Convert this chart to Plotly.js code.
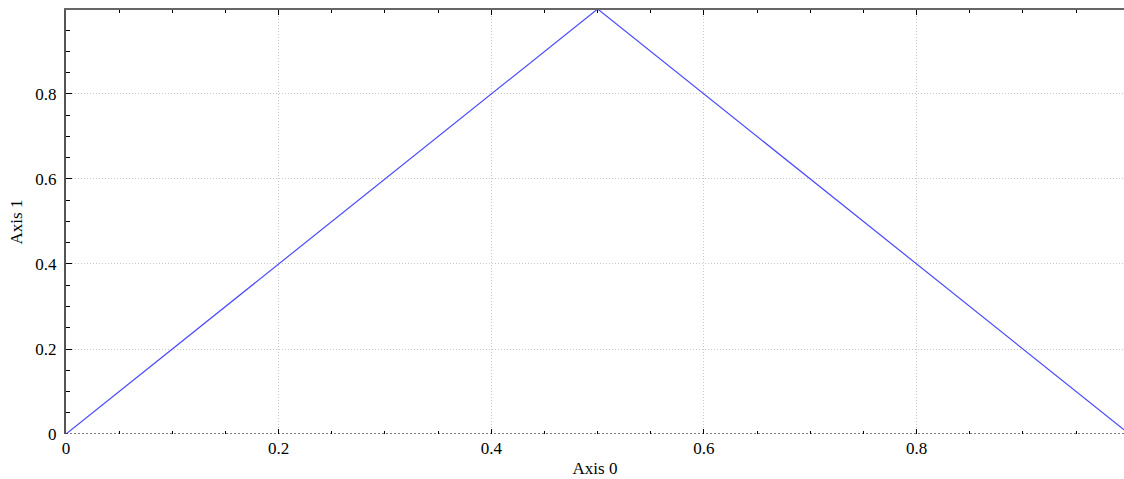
<!DOCTYPE html>
<html>
<head>
<meta charset="utf-8">
<script src="https://cdn.plot.ly/plotly-3.0.1.min.js"></script>
<style>html,body{margin:0;padding:0;background:#fff;}#chart{width:1124px;height:479px;}</style>
</head>
<body>
<div id="chart"></div>
<script>
const xValues = [0, 0.5, 0.995];
const yValues = [0, 1, 0.01];
const xTickVals = [0, 0.2, 0.4, 0.6, 0.8];
const xTickText = ["0", "0.2", "0.4", "0.6", "0.8"];
const yTickVals = [0, 0.2, 0.4, 0.6, 0.8];
const yTickText = ["0", "0.2", "0.4", "0.6", "0.8"];
const xTitle = "Axis 0";
const yTitle = "Axis 1";

const font = {family: "Liberation Serif, Times New Roman, serif", size: 17, color: "#000"};

const trace = {
  x: xValues, y: yValues, type: "scatter", mode: "lines",
  line: {color: "#4b4bff", width: 1.2}, hoverinfo: "skip", cliponaxis: false
};
const dummyTop = {x: xValues, y: yValues, xaxis: "x2", type: "scatter", mode: "lines",
  line: {color: "rgba(0,0,0,0)", width: 0}, hoverinfo: "skip", showlegend: false};

const layout = {
  width: 1124, height: 479,
  margin: {l: 66, r: 0, t: 10, b: 45, pad: 0},
  paper_bgcolor: "#fff", plot_bgcolor: "#fff",
  showlegend: false,
  font: font,
  xaxis: {
    range: [0, 0.995], tickvals: xTickVals, ticktext: xTickText,
    showline: false, zeroline: false,
    showgrid: true, gridcolor: "#c8c8c8", griddash: "1px,2px", gridwidth: 1,
    ticks: "inside", ticklen: 5, tickcolor: "#000", tickwidth: 1,
    minor: {dtick: 0.05, ticks: "inside", ticklen: 3, tickcolor: "#000", showgrid: false},
    tickfont: font, automargin: false, ticklabelstandoff: 2,
    title: {text: xTitle, font: font, standoff: 5}
  },
  xaxis2: {
    overlaying: "x", side: "top", matches: "x", range: [0, 0.995],
    tickvals: xTickVals, showticklabels: false,
    showline: true, linecolor: "#666", linewidth: 2, zeroline: false, showgrid: false,
    ticks: "inside", ticklen: 5, tickcolor: "#000", tickwidth: 1,
    minor: {dtick: 0.05, ticks: "inside", ticklen: 3, tickcolor: "#000", showgrid: false},
    automargin: false
  },
  yaxis: {
    range: [0, 0.9976], tickvals: yTickVals, ticktext: yTickText,
    showline: true, linecolor: "#555", linewidth: 2, zeroline: false,
    showgrid: true, gridcolor: "#c8c8c8", griddash: "1px,2px", gridwidth: 1,
    ticks: "inside", ticklen: 6, tickcolor: "#000", tickwidth: 1,
    minor: {dtick: 0.05, ticks: "inside", ticklen: 4, tickcolor: "#000", showgrid: false},
    tickfont: font, automargin: false, ticklabelstandoff: 4,
    title: {text: yTitle, font: font, standoff: 8}
  },
  shapes: [{
    type: "line", xref: "paper", yref: "y", x0: 0, x1: 1, y0: 0, y1: 0,
    line: {color: "#000", width: 1, dash: "2px,2px"}, layer: "above"
  }]
};

Plotly.newPlot("chart", [trace, dummyTop], layout, {staticPlot: true, displayModeBar: false});
</script>
</body>
</html>
